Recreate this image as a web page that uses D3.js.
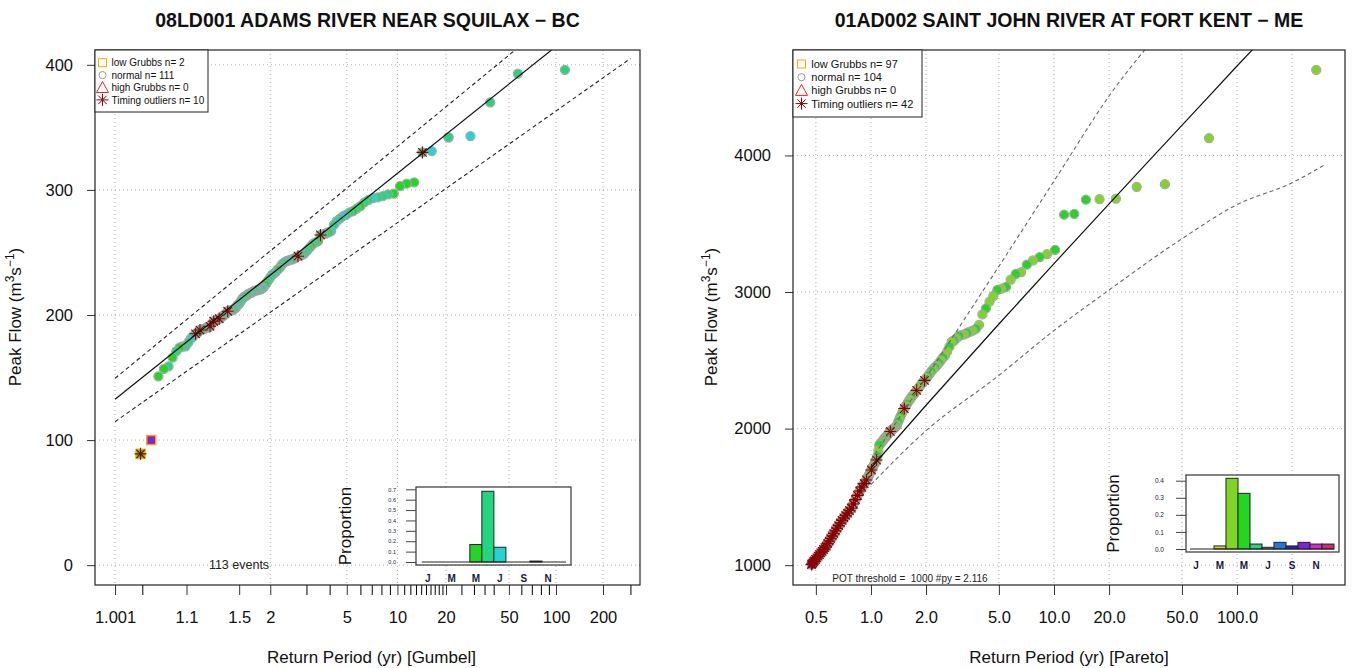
<!DOCTYPE html>
<html>
<head>
<meta charset="utf-8">
<script src="https://cdn.jsdelivr.net/npm/d3@7"></script>
<style>
  body { margin: 0; background: #fff; overflow: hidden; }
  svg text { font-family: "Liberation Sans", Arial, Helvetica, sans-serif; }
</style>
</head>
<body>
<svg id="chart" width="1354" height="668"></svg>
<script>
// ---------- data: 08LD001 Adams River (annual maxima, Gumbel) ----------
// peak flows sorted high -> low (m3/s)
var adamsFlow = [396,393,370,343,342,342,331,330,306,305,
  303,297,296.5,295,294,293.5,292,290,287,285,
  283,282,280,279,277,275,272,267,266,265,
  264.5,264,259,258,257,255,253,251,249,248,
  247.5,247,246,245,244.5,244,243.5,243,242,241,
  239,237,236,234,233,232,230,228,226,224,
  222,221,220.5,220,219.8,219.5,219,218,217.5,217,
  216,215,214.5,213,211,209,208,206,205,204,
  203.8,203.5,203,201,200,199,198,197,196,195.5,
  195,193,191,190,189.8,189,188.5,188,186,185,
  183,181,178,175,174.8,174,171,166,159,157,
  151,100,89];
// month of each peak (1 = Jan)
var adamsMonth = [6,6,6,7,6,6,7,6,5,5, 5,5,6,6,6,7,6,6,5,6, 5,6,6,7,6,7,6,7,5,6,
  6,6,5,6,6,5,6,6,6,6, 6,6,6,5,6,6,6,7,6,6, 6,6,5,6,7,6,6,6,6,5,
  7,6,6,7,6,6,6,6,6,7, 6,5,6,6,6,6,6,7,6,5, 6,6,6,7,6,6,6,6,6,7,
  6,6,6,6,7,6,6,6,6,6, 6,7,6,6,6,5,6,5,6,5, 5,10,5];
var adamsTimingRank = [8,32,42,83,88,91,93,98,100,113];
var adamsLowGrubbsRank = [112,113];
var adamsMonthShare = [0,0,0,0,0.168,0.681,0.142,0,0,0.009,0,0];
// fitted Gumbel line and bands, at return periods
var adamsCurveRP = [1.001, 300];
var adamsFitQ = [132.6, 462.3];
var adamsUpperQ = [149.4, 487.4];
var adamsLowerQ = [114.7, 405.0];
var adamsLabelRP = [1.001,1.1,1.5,2,5,10,20,50,100,200];
var adamsLabelText = ["1.001","1.1","1.5","2","5","10","20","50","100","200"];
var adamsMinorRP = [1.01,3,4,6,7,8,9,11,12,13,14,15,16,17,18,19,25,30,35,40,60,70,80,90,300];
var adamsGridRP = [1.001,2,5,10,20,50,100,200];
var adamsFlowTicks = [0,100,200,300,400];

// ---------- data: 01AD002 Saint John River (POT, Pareto) ----------
var stjohnFlow = [4627,4127,3790,3770,3684,3680,3676,3572,3566,3309,
  3278,3256,3231,3200,3146,3132,3091,3037,3025,3015,
  2971,2930,2880,2836,2760,2730,2718,2710,2700,2690,
  2685,2680,2660,2645,2636,2600,2565,2536,2520,2500,
  2480,2463,2450,2435,2420,2400,2385,2370,2353,2340,
  2325,2310,2295,2280,2265,2250,2240,2225,2210,2195,
  2180,2165,2147,2130,2110,2090,2070,2050,2025,2015,
  2008,2000,1995,1988,1979,1970,1960,1950,1942,1935,
  1925,1915,1905,1898,1890,1879,1840,1800,1770,1760,
  1745,1735,1722,1710,1697,1685,1672,1660,1648,1636,
  1624,1615,1606,1597,1588,1580,1572,1563,1553,1543,
  1532,1522,1511,1500,1490,1480,1469,1459,1448,1438,
  1427,1417,1411,1405,1400,1394,1388,1382,1376,1370,
  1364,1358,1352,1346,1340,1334,1328,1322,1316,1309,
  1303,1296,1290,1284,1277,1271,1264,1258,1252,1245,
  1239,1232,1226,1220,1214,1208,1202,1195,1189,1183,
  1177,1171,1165,1159,1152,1146,1140,1136,1132,1128,
  1123,1119,1115,1111,1107,1102,1098,1094,1090,1086,
  1081,1077,1073,1069,1066,1062,1058,1054,1050,1047,
  1043,1039,1035,1031,1028,1024,1020,1016,1012,1009,
  1005];
var stjohnMonth = [4,4,4,4,4,4,5,5,5,5, 4,5,4,5,4,5,4,5,4,5, 4,4,5,4,4,5,4,4,5,4,
  4,5,4,5,4,5,4,4,5,4, 5,4,5,4,5,4,5,4,6,5, 4,5,4,3,4,5,4,5,4,4,
  5,4,11,5,4,5,4,5,4,5, 4,5,4,5,12,4,5,4,5,4, 4,5,4,5,4,5,4,5,10,4,
  5,4,5,4,8,5,4,5,4,5, 9,4,5,6,4,5,10,4,5,8, 4,5,12,4,5,3,4,5,10,4,
  5,8,4,5,6,4,5,11,4,5, 10,4,5,8,4,5,12,4,5,6, 4,5,9,4,5,10,4,5,8,4,
  5,7,4,5,11,4,5,10,4,5, 8,4,5,6,4,5,12,4,5,3, 4,5,10,4,5,9,4,5,11,4,
  5,8,4,5,6,4,5,12,4,5, 7,4,5,3,4,9,5,11,4,8, 10];
var stjohnSeason = [4,5];
var stjohnThreshold = 1000;
var stjohnPerYear = 2.116;
var stjohnMonthShare = [0,0,0.018,0.414,0.326,0.029,0.01,0.039,0.018,0.039,0.029,0.029];
var stjohnCurveRP = [1,2,5,10,20,50,100,200,300];
var stjohnFitQ = [1712,2171,2766,3208,3646,4220,4655,5080,5330];
var stjohnUpperQ = [1770,2374,3188,3812,4435,5100,5600,6100,6400];
var stjohnLowerQ = [1590,1985,2390,2718,3015,3390,3640,3800,3930];
var stjohnLabelRP = [0.5,1,2,5,10,20,50,100,200];
var stjohnLabelText = ["0.5","1.0","2.0","5.0","10.0","20.0","50.0","100.0",""];
var stjohnGridRP = [0.5,1,2,5,10,20,50,100,200];
var stjohnFlowTicks = [1000,2000,3000,4000];

var monthLetters = ["J","M","M","J","S","N"];
var monthLetterIdx = [0,2,4,6,8,10];

// ---------- styling ----------
var monthColor = ["#dd2222","#dd7f22","#d4d426","#7fd622","#22d622","#22d680",
                  "#22d4d4","#2277dd","#2222cc","#7f22dd","#dd22dd","#dd2277"];
var starColor = "#8b0000";
var svg = d3.select("#chart");

function gumbelVar(T) { return -Math.log(-Math.log(1 - 1 / T)); }

// rank from the top, ties get the mean rank
function rankDesc(values) {
  return values.map(function(v) {
    var above = values.filter(function(w) { return w > v; }).length;
    var same = values.filter(function(w) { return w === v; }).length;
    return above + (same + 1) / 2;
  });
}

function starPath(r) {
  var d = r * 0.7071;
  return "M" + (-r) + ",0H" + r + "M0," + (-r) + "V" + r +
    "M" + (-d) + "," + (-d) + "L" + d + "," + d + "M" + (-d) + "," + d + "L" + d + "," + (-d);
}

function drawPanel(p) {
  var g = svg.append("g");
  var b = p.box;
  var clipId = "clip" + p.id;
  g.append("clipPath").attr("id", clipId).append("rect")
    .attr("x", b.x0).attr("y", b.y0).attr("width", b.x1 - b.x0).attr("height", b.y1 - b.y0);

  // dotted grid
  var grid = g.append("g").attr("stroke", "#b0b0b0").attr("stroke-width", 1)
    .attr("stroke-dasharray", "1,3");
  p.gridRP.forEach(function(t) {
    grid.append("line").attr("x1", p.x(t)).attr("x2", p.x(t)).attr("y1", b.y0).attr("y2", b.y1);
  });
  p.flowTicks.forEach(function(q) {
    grid.append("line").attr("x1", b.x0).attr("x2", b.x1).attr("y1", p.y(q)).attr("y2", p.y(q));
  });

  // axes
  var yAx = g.append("g").attr("transform", "translate(" + b.x0 + ",0)")
    .call(d3.axisLeft(p.y).tickValues(p.flowTicks).tickSize(8).tickPadding(14).tickFormat(d3.format("d")));
  var xAx = g.append("g").attr("transform", "translate(0," + b.y1 + ")")
    .call(d3.axisBottom(p.xScale).tickValues(p.labelRP.map(p.toX)).tickSize(10).tickPadding(16)
      .tickFormat(function(d, i) { return p.labelText[i]; }));
  if (p.minorRP) {
    g.append("g").attr("transform", "translate(0," + b.y1 + ")")
      .call(d3.axisBottom(p.xScale).tickValues(p.minorRP.map(p.toX)).tickSize(10).tickFormat(""))
      .select(".domain").remove();
  }
  [yAx, xAx].forEach(function(a) {
    a.select(".domain").remove();
    a.selectAll("text").style("font-size", "16.5px").attr("fill", "#111")
      .style("font-family", '"Liberation Sans", Arial, sans-serif');
    a.selectAll("line").attr("stroke", "#333");
  });

  // points
  var ranks = rankDesc(p.flow);
  var pts = p.flow.map(function(q, i) {
    return { q: q, rp: p.plotPos(ranks[i]), month: p.month[i],
             timing: p.isTiming(i + 1), low: p.lowRank.indexOf(i + 1) >= 0 };
  });
  var pg = g.append("g").attr("clip-path", "url(#" + clipId + ")");
  pts.forEach(function(d) {
    var cx = p.x(d.rp), cy = p.y(d.q);
    if (d.low) {
      pg.append("rect").attr("x", cx - 4.5).attr("y", cy - 4.5).attr("width", 9).attr("height", 9)
        .attr("fill", monthColor[d.month - 1]).attr("stroke", "#ffa500").attr("stroke-width", 1.5);
    } else {
      pg.append("circle").attr("cx", cx).attr("cy", cy).attr("r", 4.3)
        .attr("fill", monthColor[d.month - 1]);
      pg.append("circle").attr("cx", cx).attr("cy", cy).attr("r", 4.6)
        .attr("fill", "none").attr("stroke", "#a3a3a3").attr("stroke-width", 1.1);
    }
  });
  pts.forEach(function(d) {
    if (d.timing) {
      pg.append("path").attr("d", starPath(6))
        .attr("transform", "translate(" + p.x(d.rp) + "," + p.y(d.q) + ")")
        .attr("stroke", starColor).attr("stroke-width", 1.1).attr("fill", "none");
    }
  });

  // fitted line and bands
  var line = d3.line().x(function(d) { return p.x(d[0]); }).y(function(d) { return p.y(d[1]); })
    .curve(p.curve);
  var lg = g.append("g").attr("clip-path", "url(#" + clipId + ")").attr("fill", "none");
  lg.append("path").attr("d", line(d3.zip(p.curveRP, p.upperQ)))
    .attr("stroke", p.bandColor).attr("stroke-width", 1.1).attr("stroke-dasharray", "4,3");
  lg.append("path").attr("d", line(d3.zip(p.curveRP, p.lowerQ)))
    .attr("stroke", p.bandColor).attr("stroke-width", 1.1).attr("stroke-dasharray", "4,3");
  lg.append("path").attr("d", line(d3.zip(p.curveRP, p.fitQ)))
    .attr("stroke", "#111").attr("stroke-width", 1.2);

  // box
  g.append("rect").attr("x", b.x0).attr("y", b.y0).attr("width", b.x1 - b.x0).attr("height", b.y1 - b.y0)
    .attr("fill", "none").attr("stroke", "#222").attr("stroke-width", 1.2);

  // legend
  var L = p.legend;
  g.append("rect").attr("x", b.x0).attr("y", b.y0).attr("width", L.w).attr("height", L.h)
    .attr("fill", "#fff").attr("stroke", "#222").attr("stroke-width", 1);
  p.legendText.forEach(function(t, i) {
    var cy = b.y0 + L.row0 + i * L.step, cx = b.x0 + L.sym;
    if (i === 0) g.append("rect").attr("x", cx - 4).attr("y", cy - 4).attr("width", 8).attr("height", 8)
      .attr("fill", "none").attr("stroke", "#ffa500").attr("stroke-width", 1);
    if (i === 1) g.append("circle").attr("cx", cx).attr("cy", cy).attr("r", 3.6)
      .attr("fill", "none").attr("stroke", "#999").attr("stroke-width", 1);
    if (i === 2) g.append("path").attr("d", "M" + (cx - 6) + "," + (cy + 5) + "L" + cx + "," + (cy - 6) + "L" + (cx + 6) + "," + (cy + 5) + "Z")
      .attr("fill", "none").attr("stroke", "#ff2020").attr("stroke-width", 1);
    if (i === 3) g.append("path").attr("d", starPath(6)).attr("transform", "translate(" + cx + "," + cy + ")")
      .attr("stroke", starColor).attr("stroke-width", 1).attr("fill", "none");
    g.append("text").attr("x", b.x0 + L.text).attr("y", cy + L.fs * 0.36).style("font-size", L.fs + "px")
      .attr("fill", "#111").text(t);
  });

  // month histogram inset
  var I = p.inset;
  var yI = d3.scaleLinear().domain([0, I.tmax]).range([I.zeroY, I.topY]);
  var xI = d3.scaleBand().domain(d3.range(12)).range([I.barX, I.barX + 12 * I.barW]).padding(0);
  g.append("rect").attr("x", I.box[0]).attr("y", I.box[1]).attr("width", I.box[2] - I.box[0])
    .attr("height", I.box[3] - I.box[1]).attr("fill", "#fff").attr("stroke", "#333").attr("stroke-width", 1.2);
  p.share.forEach(function(s, i) {
    if (s > 0) g.append("rect").attr("x", xI(i)).attr("y", yI(s)).attr("width", xI.bandwidth())
      .attr("height", yI(0) - yI(s)).attr("fill", monthColor[i]).attr("stroke", "#222").attr("stroke-width", 1);
  });
  g.append("line").attr("x1", I.barX).attr("x2", I.barX + 12 * I.barW).attr("y1", yI(0)).attr("y2", yI(0))
    .attr("stroke", "#222").attr("stroke-width", 1);
  var iax = g.append("g").attr("transform", "translate(" + I.box[0] + ",0)")
    .call(d3.axisLeft(yI).tickValues(d3.range(0, I.tmax + 0.001, 0.1)).tickSize(10).tickPadding(I.pad)
      .tickFormat(d3.format(".1f")));
  iax.select(".domain").remove();
  iax.selectAll("line").attr("stroke", "#444");
  iax.selectAll("text").style("font-size", I.tickFs + "px").attr("fill", "#1a1a40")
    .style("font-family", '"Liberation Sans", Arial, sans-serif');
  monthLetterIdx.forEach(function(mi, k) {
    g.append("text").attr("x", xI(mi) + xI.bandwidth() / 2).attr("y", I.labelY).attr("text-anchor", "middle")
      .style("font-size", "10px").style("font-weight", "bold").attr("fill", "#1a1a40").text(monthLetters[k]);
  });
  g.append("text").attr("transform", "translate(" + I.propX + "," + I.propY + ") rotate(-90)")
    .attr("text-anchor", "middle").attr("dy", "0.35em").style("font-size", "17px").attr("fill", "#111")
    .text("Proportion");

  // titles and axis labels
  g.append("text").attr("x", (b.x0 + b.x1) / 2).attr("y", 27).attr("text-anchor", "middle")
    .style("font-size", "19.5px").style("font-weight", "bold").attr("fill", "#111").text(p.title);
  g.append("text").attr("x", (b.x0 + b.x1) / 2 + p.xTitleShift).attr("y", 663).attr("text-anchor", "middle")
    .style("font-size", "17px").attr("fill", "#111").text(p.xTitle);
  var yl = g.append("text").attr("transform", "translate(" + p.yTitleX + ",317) rotate(-90)")
    .attr("text-anchor", "middle").style("font-size", "17px").attr("fill", "#111");
  yl.append("tspan").text("Peak Flow (m");
  yl.append("tspan").attr("dy", -7).style("font-size", "12px").text("3");
  yl.append("tspan").attr("dy", 7).text("s");
  yl.append("tspan").attr("dy", -7).style("font-size", "12px").text("\u22121");
  yl.append("tspan").attr("dy", 7).text(")");

  g.append("text").attr("x", p.note.x).attr("y", p.note.y).attr("text-anchor", "middle")
    .style("font-size", p.note.fs + "px").style("white-space", "pre").attr("fill", "#222").text(p.note.text);
}

// ---------- left panel ----------
var gScale = d3.scaleLinear().domain([-2.230, 5.844]).range([95, 640]);
var adamsN = adamsFlow.length;
drawPanel({
  id: "L",
  title: "08LD001 ADAMS RIVER NEAR SQUILAX \u2212 BC",
  xTitle: "Return Period (yr) [Gumbel]",
  xTitleShift: 4,
  yTitleX: 21,
  box: { x0: 95, x1: 640, y0: 50, y1: 585 },
  xScale: gScale,
  toX: gumbelVar,
  x: function(t) { return gScale(gumbelVar(t)); },
  y: d3.scaleLinear().domain([-15.84, 411.84]).range([585, 50]),
  flow: adamsFlow,
  month: adamsMonth,
  plotPos: function(r) { return (adamsN + 1) / r; },
  isTiming: function(r) { return adamsTimingRank.indexOf(r) >= 0; },
  lowRank: adamsLowGrubbsRank,
  labelRP: adamsLabelRP, labelText: adamsLabelText, minorRP: adamsMinorRP,
  gridRP: adamsGridRP, flowTicks: adamsFlowTicks,
  curveRP: adamsCurveRP, fitQ: adamsFitQ, upperQ: adamsUpperQ, lowerQ: adamsLowerQ,
  curve: d3.curveLinear, bandColor: "#222",
  legend: { w: 113, h: 62, row0: 12.7, step: 12.4, sym: 7.5, text: 16.5, fs: 10 },
  legendText: ["low Grubbs n= 2", "normal n= 111", "high Grubbs n= 0", "Timing outliers n= 10"],
  share: adamsMonthShare,
  inset: { box: [416, 487, 571, 565], tmax: 0.7, zeroY: 562, topY: 489.3, barX: 421.7, barW: 12.03,
           pad: 10, tickFs: 5.5, labelY: 582, propX: 345, propY: 526 },
  note: { x: 239, y: 569, fs: 12.5, text: "113 events" }
});

// ---------- right panel ----------
var rScale = d3.scaleLog().domain([0.375, 389]).range([793, 1345]);
var stjohnN = stjohnFlow.length;
var ppA = 0.65;
drawPanel({
  id: "R",
  title: "01AD002 SAINT JOHN RIVER AT FORT KENT \u2212 ME",
  xTitle: "Return Period (yr) [Pareto]",
  xTitleShift: 0,
  yTitleX: 717,
  box: { x0: 793, x1: 1345, y0: 50, y1: 585 },
  xScale: rScale,
  toX: function(t) { return t; },
  x: rScale,
  y: d3.scaleLinear().domain([855, 4772]).range([585, 50]),
  flow: stjohnFlow,
  month: stjohnMonth,
  plotPos: function(r) { return (stjohnN + 1 - 2 * ppA) / (stjohnPerYear * (r - ppA)); },
  isTiming: function(r) { return stjohnSeason.indexOf(stjohnMonth[r - 1]) < 0; },
  lowRank: [],
  labelRP: stjohnLabelRP, labelText: stjohnLabelText, minorRP: null,
  gridRP: stjohnGridRP, flowTicks: stjohnFlowTicks,
  curveRP: stjohnCurveRP, fitQ: stjohnFitQ, upperQ: stjohnUpperQ, lowerQ: stjohnLowerQ,
  curve: d3.curveMonotoneX, bandColor: "#666",
  legend: { w: 129, h: 67, row0: 14, step: 13.2, sym: 8.5, text: 18.3, fs: 11 },
  legendText: ["low Grubbs n= 97", "normal n= 104", "high Grubbs n= 0", "Timing outliers n= 42"],
  share: stjohnMonthShare,
  inset: { box: [1186, 475, 1339, 552], tmax: 0.4, zeroY: 549, topY: 480.7, barX: 1190, barW: 12,
           pad: 12, tickFs: 6.5, labelY: 568.5, propX: 1113, propY: 513.5 },
  note: { x: 910, y: 582, fs: 10, text: "POT threshold =  " + stjohnThreshold + " #py = " + stjohnPerYear }
});
</script>
</body>
</html>
